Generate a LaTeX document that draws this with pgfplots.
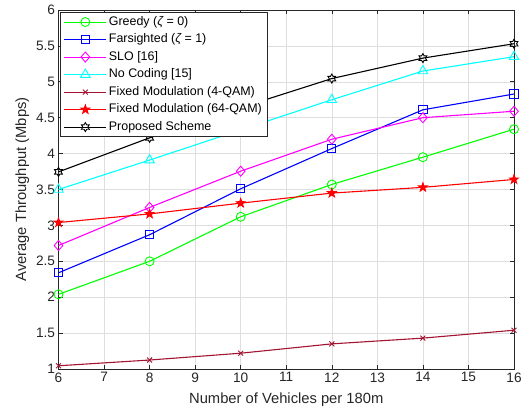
\documentclass[border=0pt]{standalone}
\usepackage{fontspec}
\setmainfont{Liberation Sans}
\usepackage{pgfplots}
\usepackage{pgfplotstable}
\pgfplotsset{compat=1.18}
\usetikzlibrary{plotmarks}

\definecolor{axgray}{rgb}{0.15,0.15,0.15}
\definecolor{gridgray}{rgb}{0.87,0.87,0.87}
\definecolor{mgreen}{rgb}{0,1,0}
\definecolor{mblue}{rgb}{0,0,1}
\definecolor{mmagenta}{rgb}{1,0,1}
\definecolor{mcyan}{rgb}{0,1,1}
\definecolor{mdarkred}{rgb}{0.635,0.078,0.184}
\definecolor{mred}{rgb}{1,0,0}

% MATLAB-like marks
\pgfdeclareplotmark{mdiamond}{%
  \pgfpathmoveto{\pgfqpoint{0pt}{\pgfplotmarksize}}%
  \pgfpathlineto{\pgfqpoint{0.87\pgfplotmarksize}{0pt}}%
  \pgfpathlineto{\pgfqpoint{0pt}{-\pgfplotmarksize}}%
  \pgfpathlineto{\pgfqpoint{-0.87\pgfplotmarksize}{0pt}}%
  \pgfpathclose\pgfusepathqstroke}
\pgfdeclareplotmark{pentagram*}{%
  \pgfpathmoveto{\pgfqpointpolar{90}{\pgfplotmarksize}}%
  \pgfpathlineto{\pgfqpointpolar{126}{0.4\pgfplotmarksize}}%
  \pgfpathlineto{\pgfqpointpolar{162}{\pgfplotmarksize}}%
  \pgfpathlineto{\pgfqpointpolar{198}{0.4\pgfplotmarksize}}%
  \pgfpathlineto{\pgfqpointpolar{234}{\pgfplotmarksize}}%
  \pgfpathlineto{\pgfqpointpolar{270}{0.4\pgfplotmarksize}}%
  \pgfpathlineto{\pgfqpointpolar{306}{\pgfplotmarksize}}%
  \pgfpathlineto{\pgfqpointpolar{342}{0.4\pgfplotmarksize}}%
  \pgfpathlineto{\pgfqpointpolar{18}{\pgfplotmarksize}}%
  \pgfpathlineto{\pgfqpointpolar{54}{0.4\pgfplotmarksize}}%
  \pgfpathclose\pgfusepathqfillstroke}
\pgfdeclareplotmark{hexagram}{%
  \pgfpathmoveto{\pgfqpointpolar{90}{\pgfplotmarksize}}%
  \pgfpathlineto{\pgfqpointpolar{120}{0.577\pgfplotmarksize}}%
  \pgfpathlineto{\pgfqpointpolar{150}{\pgfplotmarksize}}%
  \pgfpathlineto{\pgfqpointpolar{180}{0.577\pgfplotmarksize}}%
  \pgfpathlineto{\pgfqpointpolar{210}{\pgfplotmarksize}}%
  \pgfpathlineto{\pgfqpointpolar{240}{0.577\pgfplotmarksize}}%
  \pgfpathlineto{\pgfqpointpolar{270}{\pgfplotmarksize}}%
  \pgfpathlineto{\pgfqpointpolar{300}{0.577\pgfplotmarksize}}%
  \pgfpathlineto{\pgfqpointpolar{330}{\pgfplotmarksize}}%
  \pgfpathlineto{\pgfqpointpolar{0}{0.577\pgfplotmarksize}}%
  \pgfpathlineto{\pgfqpointpolar{30}{\pgfplotmarksize}}%
  \pgfpathlineto{\pgfqpointpolar{60}{0.577\pgfplotmarksize}}%
  \pgfpathclose\pgfusepathqstroke}

\pgfplotstableread{
n   greedy farsighted slo   nocoding qam4  qam64 proposed
6   2.04   2.34       2.72  3.50     1.045 3.04  3.745
8   2.50   2.87       3.25  3.91     1.125 3.16  4.22
10  3.12   3.51       3.755 4.33     1.22  3.31  4.64
12  3.57   4.07       4.20  4.75     1.35  3.45  5.045
14  3.95   4.61       4.50  5.15     1.43  3.53  5.33
16  4.34   4.83       4.59  5.35     1.54  3.64  5.53
}\thr

\begin{document}
\begin{tikzpicture}
\begin{axis}[
    scale only axis,
    width=455.5bp, height=359bp,
    xmin=6, xmax=16, ymin=1, ymax=6,
    xtick={6,...,16},
    ytick={1,1.5,...,6},
    grid=major,
    grid style={color=gridgray, line width=0.5bp},
    tick align=inside,
    major tick length=4.5bp,
    axis line style={color=axgray, line width=0.6bp},
    tick style={color=axgray, line width=0.6bp},
    /pgf/number format/assume math mode=true,
    ticklabel style={font=\fontsize{13.7}{15}\selectfont, color=axgray},
    label style={font=\fontsize{14.8}{16}\selectfont, color=axgray},
    xlabel={Number of Vehicles per 180m},
    xlabel style={yshift=-4bp},
    ylabel={Average Throughput (Mbps)},
    every axis plot/.append style={line width=1.1bp, mark options={solid, line width=0.9bp}},
    legend cell align=left,
    legend image code/.code={%
        \draw[mark repeat=2, mark phase=2] plot coordinates {(0bp,0bp) (21bp,0bp) (42bp,0bp)};},
    legend style={at={(0,1)}, anchor=north west, xshift=2bp, yshift=-2bp,
        font=\fontsize{12.5}{14}\selectfont, draw=axgray, line width=0.6bp,
        fill=white, inner xsep=3bp, inner ysep=1bp, row sep=0bp,
        nodes={text height=9.5bp, text depth=3bp, inner ysep=2.5bp},
        /tikz/every even column/.append style={column sep=0bp}},
]
\addplot[color=mgreen, mark=o, mark size=4.5bp] table[x=n, y=greedy] {\thr};
\addlegendentry{Greedy ({\itshape ζ} = 0)}
\addplot[color=mblue, mark=square, mark size=4.1bp] table[x=n, y=farsighted] {\thr};
\addlegendentry{Farsighted ({\itshape ζ} = 1)}
\addplot[color=mmagenta, mark=mdiamond, mark size=5bp] table[x=n, y=slo] {\thr};
\addlegendentry{SLO [16]}
\addplot[color=mcyan, mark=triangle, mark size=5.5bp] table[x=n, y=nocoding] {\thr};
\addlegendentry{No Coding [15]}
\addplot[color=mdarkred, mark=x, mark size=3.5bp] table[x=n, y=qam4] {\thr};
\addlegendentry{Fixed Modulation (4-QAM)}
\addplot[color=mred, mark=pentagram*, mark size=4.6bp] table[x=n, y=qam64] {\thr};
\addlegendentry{Fixed Modulation (64-QAM)}
\addplot[color=black, mark=hexagram, mark size=4.5bp] table[x=n, y=proposed] {\thr};
\addlegendentry{Proposed Scheme}
\end{axis}
\path (current axis.south west) ++(-58.5bp,-46bp) coordinate (bbA);
\path (current axis.north east) ++(14bp,10bp) coordinate (bbB);
\path (bbA) rectangle (bbB);
\end{tikzpicture}
\end{document}
